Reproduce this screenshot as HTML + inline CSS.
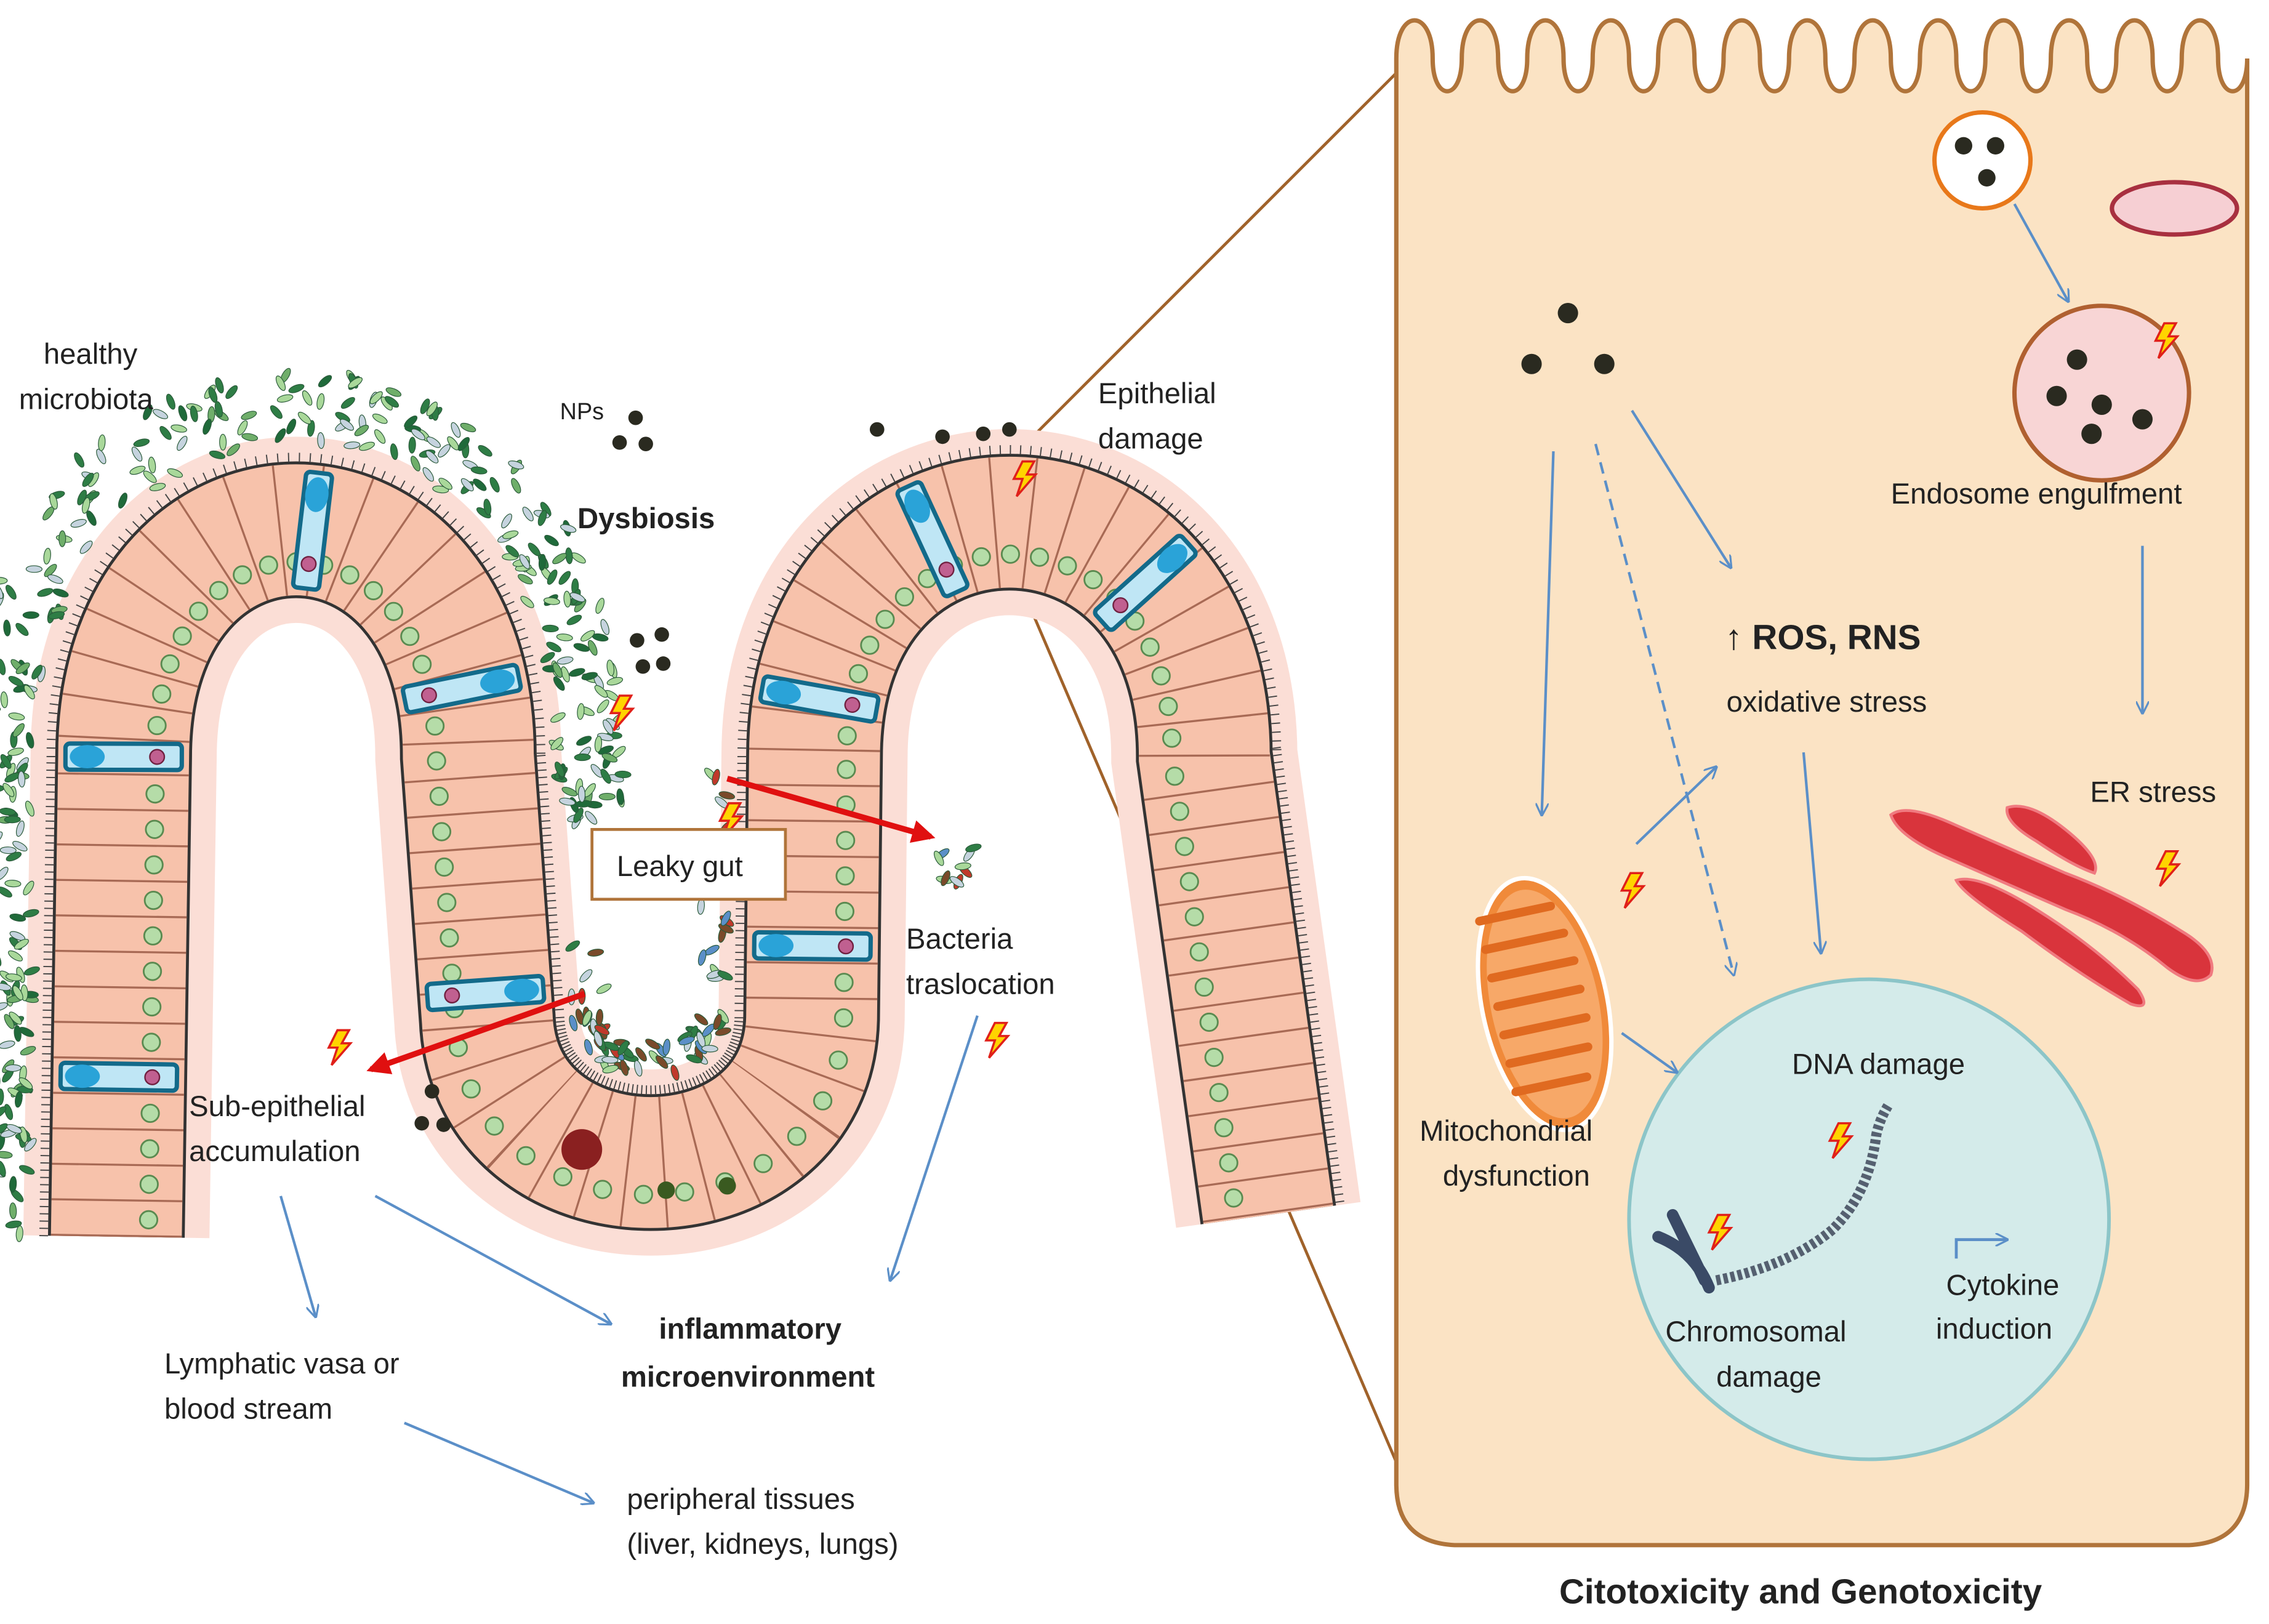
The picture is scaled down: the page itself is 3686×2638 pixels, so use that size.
<!DOCTYPE html>
<html><head><meta charset="utf-8">
<style>
html,body{margin:0;padding:0;background:#fff;}
svg{display:block;}
text{font-family:"Liberation Sans",sans-serif;fill:#222;}
</style></head>
<body>
<svg id="s" width="3686" height="2638" viewBox="0 0 1560 1116" xmlns="http://www.w3.org/2000/svg">
<defs>
<marker id="ab" viewBox="0 0 10 10" refX="9" refY="5" markerWidth="9" markerHeight="9" orient="auto" markerUnits="userSpaceOnUse"><path d="M0,0 L10,5 L0,10" fill="none" stroke="#5b8fc8" stroke-width="1.5"/></marker>
<marker id="ar" viewBox="0 0 10 10" refX="8" refY="5" markerWidth="16" markerHeight="16" orient="auto" markerUnits="userSpaceOnUse"><path d="M0,0 L10,5 L0,10 z" fill="#e01010"/></marker>
<g id="bolt"><path d="M6,0 L14,0 L9,9 L15,9 L2,24 L6,12 L0,12 z" fill="#ffd400" stroke="#e0201a" stroke-width="1.5"/></g>
</defs>

<line x1="710" y1="300" x2="962" y2="48" stroke="#a0622a" stroke-width="2"/>
<line x1="700" y1="398" x2="975" y2="1040" stroke="#a0622a" stroke-width="2"/>

<path d="M960,40 C960,5 985,5 985,40 C985,70 1005,70 1005,40 C1005,5 1030,5 1030,40 C1030,70 1050,70 1050,40 C1050,5 1075,5 1075,40 C1075,70 1095,70 1095,40 C1095,5 1120,5 1120,40 C1120,70 1140,70 1140,40 C1140,5 1165,5 1165,40 C1165,70 1185,70 1185,40 C1185,5 1210,5 1210,40 C1210,70 1230,70 1230,40 C1230,5 1255,5 1255,40 C1255,70 1275,70 1275,40 C1275,5 1300,5 1300,40 C1300,70 1320,70 1320,40 C1320,5 1345,5 1345,40 C1345,70 1365,70 1365,40 C1365,5 1390,5 1390,40 C1390,70 1410,70 1410,40 C1410,5 1435,5 1435,40 C1435,70 1455,70 1455,40 C1455,5 1480,5 1480,40 C1480,70 1500,70 1500,40 C1500,5 1525,5 1525,40 C1525,70 1545,70 1545,40 L1545,1020 Q1545,1060 1505,1062 L1000,1062 Q960,1060 960,1020 Z" fill="#fbe3c4" stroke="#b0743a" stroke-width="3"/>

<circle cx="1285" cy="838" r="165" fill="#d4ebea" stroke="#8cc5c8" stroke-width="2.5"/>

<circle cx="1078" cy="215" r="7" fill="#2a2a20"/>
<circle cx="1053" cy="250" r="7" fill="#2a2a20"/>
<circle cx="1103" cy="250" r="7" fill="#2a2a20"/>

<circle cx="1363" cy="110" r="33" fill="#fff" stroke="#e8781a" stroke-width="3"/>
<circle cx="1350" cy="100" r="6" fill="#2a2a20"/><circle cx="1372" cy="100" r="6" fill="#2a2a20"/><circle cx="1366" cy="122" r="6" fill="#2a2a20"/>
<ellipse cx="1495" cy="143" rx="43" ry="18" fill="#f6cfd3" stroke="#a83040" stroke-width="3"/>
<circle cx="1445" cy="270" r="60" fill="#f8d5d5" stroke="#b06030" stroke-width="3"/>
<circle cx="1428" cy="247" r="7" fill="#2a2a20"/><circle cx="1414" cy="272" r="7" fill="#2a2a20"/><circle cx="1445" cy="278" r="7" fill="#2a2a20"/><circle cx="1438" cy="298" r="7" fill="#2a2a20"/><circle cx="1473" cy="288" r="7" fill="#2a2a20"/>
<use href="#bolt" x="1482" y="222"/>

<g transform="rotate(-12 1062 690)">
<ellipse cx="1062" cy="690" rx="43" ry="88" fill="#f08a3a" stroke="#fff" stroke-width="3"/>
<ellipse cx="1062" cy="690" rx="37" ry="80" fill="#f7a868"/>
<path d="M1030,625 h50 M1030,645 h55 M1030,665 h58 M1030,685 h58 M1030,705 h58 M1030,725 h55 M1030,745 h50" stroke="#e06a20" stroke-width="6" stroke-linecap="round"/>
</g>
<use href="#bolt" x="1115" y="600"/>

<g fill="#d9343c" stroke="#f07a80" stroke-width="2">
<path d="M1300,560 Q1310,552 1340,565 L1420,600 Q1460,615 1500,640 Q1525,655 1520,670 Q1510,680 1490,665 Q1460,640 1420,625 L1340,590 Q1305,575 1300,560 Z"/>
<path d="M1345,605 Q1360,600 1400,625 Q1440,650 1470,680 Q1480,695 1465,690 Q1430,670 1390,640 Q1350,615 1345,605 Z"/>
<path d="M1380,555 Q1395,550 1420,570 Q1445,590 1440,600 Q1425,595 1400,578 Q1378,565 1380,555 Z"/>
</g>
<use href="#bolt" x="1483" y="585"/>

<path d="M1180,880 Q1230,870 1260,845 Q1285,820 1290,780 Q1292,770 1298,760" stroke="#556070" stroke-width="7" fill="none" stroke-dasharray="3 2"/>
<path d="M1150,835 L1172,880 M1140,850 Q1165,860 1175,885" stroke="#3a4a66" stroke-width="8" fill="none" stroke-linecap="round"/>
<use href="#bolt" x="1175" y="835"/>
<use href="#bolt" x="1258" y="772"/>
<path d="M1345,865 V852 H1380" stroke="#5b8fc8" stroke-width="2" fill="none" marker-end="url(#ab)"/>

<g stroke="#5b8fc8" stroke-width="1.8" fill="none" marker-end="url(#ab)">
<line x1="1068" y1="310" x2="1060" y2="560"/>
<line x1="1122" y1="282" x2="1190" y2="390"/>
<line x1="1097" y1="305" x2="1192" y2="670" stroke-dasharray="8 5"/>
<line x1="1125" y1="580" x2="1180" y2="527"/>
<line x1="1240" y1="517" x2="1252" y2="655"/>
<line x1="1115" y1="710" x2="1153" y2="737"/>
<line x1="1385" y1="140" x2="1422" y2="207"/>
<line x1="1473" y1="375" x2="1473" y2="490"/>
<line x1="672" y1="698" x2="612" y2="880"/>
<line x1="193" y1="822" x2="217" y2="905"/>
<line x1="258" y1="822" x2="420" y2="910"/>
<line x1="278" y1="978" x2="408" y2="1033"/>
</g>

<g id="villi"></g>

<line x1="500" y1="535" x2="640" y2="575" stroke="#e01010" stroke-width="4" marker-end="url(#ar)"/>
<line x1="402" y1="683" x2="255" y2="735" stroke="#e01010" stroke-width="4" marker-end="url(#ar)"/>

<use href="#bolt" x="420" y="478"/>
<use href="#bolt" x="495" y="552"/>
<use href="#bolt" x="226" y="708"/>
<use href="#bolt" x="678" y="703"/>
<use href="#bolt" x="697" y="317"/>

<g fill="#2a2a20">
<circle cx="437" cy="287" r="5"/><circle cx="426" cy="304" r="5"/><circle cx="444" cy="305" r="5"/>
<circle cx="438" cy="440" r="5"/><circle cx="455" cy="436" r="5"/><circle cx="442" cy="458" r="5"/><circle cx="456" cy="456" r="5"/>
<circle cx="603" cy="295" r="5"/><circle cx="648" cy="300" r="5"/><circle cx="676" cy="298" r="5"/><circle cx="694" cy="295" r="5"/>
<circle cx="297" cy="750" r="5"/><circle cx="290" cy="772" r="5"/><circle cx="305" cy="773" r="5"/>
</g>

<rect x="407" y="570" width="133" height="48" fill="#fff" stroke="#b0743a" stroke-width="2"/>

<g font-size="20">
<text x="30" y="250">healthy</text>
<text x="13" y="281">microbiota</text>
<text x="385" y="288" font-size="16">NPs</text>
<text x="397" y="363" font-weight="bold">Dysbiosis</text>
<text x="755" y="277">Epithelial</text>
<text x="755" y="308">damage</text>
<text x="424" y="602">Leaky gut</text>
<text x="623" y="652">Bacteria</text>
<text x="623" y="683">traslocation</text>
<text x="130" y="767">Sub-epithelial</text>
<text x="130" y="798">accumulation</text>
<text x="113" y="944">Lymphatic vasa or</text>
<text x="113" y="975">blood stream</text>
<text x="453" y="920" font-weight="bold">inflammatory</text>
<text x="427" y="953" font-weight="bold">microenvironment</text>
<text x="431" y="1037">peripheral tissues</text>
<text x="431" y="1068">(liver, kidneys, lungs)</text>
<text x="1300" y="346">Endosome engulfment</text>
<text x="1186" y="446" font-size="24" font-weight="bold">↑ ROS, RNS</text>
<text x="1187" y="489">oxidative stress</text>
<text x="1437" y="551">ER stress</text>
<text x="976" y="784">Mitochondrial</text>
<text x="992" y="815">dysfunction</text>
<text x="1232" y="738">DNA damage</text>
<text x="1145" y="922">Chromosomal</text>
<text x="1180" y="953">damage</text>
<text x="1338" y="890">Cytokine</text>
<text x="1331" y="920">induction</text>
<text x="1072" y="1102" font-size="24" font-weight="bold">Citotoxicity and Genotoxicity</text>
</g>
</svg>
<script>
(function(){
var NS="http://www.w3.org/2000/svg";
var g=document.getElementById("villi");
var d="M80,850 L85,520 C85,312 322,312 322,520 L335,700 C340,832 555,832 558,700 L560,520 C560,305 828,305 828,520 L872,835";
function el(t,a,p){var e=document.createElementNS(NS,t);for(var k in a)e.setAttribute(k,a[k]);(p||g).appendChild(e);return e;}
el("path",{d:d,fill:"none",stroke:"#fbded6","stroke-width":128});
el("path",{d:d,fill:"none",stroke:"#333","stroke-width":94});
el("path",{d:d,fill:"none",stroke:"#f7c2ab","stroke-width":90});
el("path",{d:d,fill:"none",stroke:"#a86a55","stroke-width":90,"stroke-dasharray":"1.4 23"});
var p=el("path",{d:d,fill:"none",stroke:"none"});
var L=p.getTotalLength();
var seed=7;function r(){seed=(seed*16807)%2147483647;return seed/2147483647;}
function at(s){var a=p.getPointAtLength(s),b=p.getPointAtLength(Math.min(L,s+1));var dx=b.x-a.x,dy=b.y-a.y,n=Math.hypot(dx,dy)||1;return {x:a.x,y:a.y,nx:-dy/n,ny:dx/n,ang:Math.atan2(dy,dx)*180/Math.PI};}
for(var s=0;s<L;s+=5){var q=at(s);el("line",{x1:q.x-q.nx*47,y1:q.y-q.ny*47,x2:q.x-q.nx*53,y2:q.y-q.ny*53,stroke:"#444","stroke-width":0.8});}
for(var s=12;s<L;s+=24.4){var q=at(s);el("circle",{cx:q.x+q.nx*22,cy:q.y+q.ny*22,r:6,fill:"#b5dca8",stroke:"#5a8a50","stroke-width":1.2});}
[110,330,560,720,930,1330,1500,1640,1800].forEach(function(s){var q=at(s);var gg=el("g",{transform:"translate("+q.x+","+q.y+") rotate("+(q.ang)+")"});
el("rect",{x:-9,y:-40,width:18,height:80,rx:3,fill:"#bfe6f5",stroke:"#136a8a","stroke-width":3},gg);
el("ellipse",{cx:0,cy:-25,rx:8,ry:12,fill:"#2aa3d8"},gg);
el("circle",{cx:0,cy:23,r:5,fill:"#c06090",stroke:"#702040"},gg);});
var cols=["#2e7d45","#1f6a3a","#a9d89a","#6fae6a","#c5d3de","#2e7d45","#a9d89a"];
function bac(x,y,c){el("ellipse",{cx:x,cy:y,rx:2.3,ry:5.5,fill:c,stroke:"#2a5a3a","stroke-width":0.5,transform:"rotate("+(r()*180)+" "+x+" "+y+")"});}
for(var i=0;i<420;i++){var s=r()*820;var q=at(s);var o=60+r()*50;bac(q.x-q.nx*o,q.y-q.ny*o,cols[Math.floor(r()*cols.length)]);}
var c2=["#2e7d45","#c0392b","#5b8fc8","#a9d89a","#7a4a2a","#c5d3de"];
for(var i=0;i<60;i++){var s=900+r()*340;var q=at(s);var o=58+r()*25;bac(q.x-q.nx*o,q.y-q.ny*o,c2[Math.floor(r()*c2.length)]);}
for(var i=0;i<30;i++){var s=1250+r()*200;var q=at(s);var o=58+r()*20;bac(q.x-q.nx*o,q.y-q.ny*o,c2[Math.floor(r()*c2.length)]);}
for(var i=0;i<10;i++){bac(645+r()*25,580+r()*30,c2[Math.floor(r()*c2.length)]);}
el("circle",{cx:400,cy:790,r:14,fill:"#8a2020"});
el("circle",{cx:458,cy:818,r:6,fill:"#3a5a20"});el("circle",{cx:500,cy:815,r:6,fill:"#3a5a20"});
})();
</script>
</body></html>
